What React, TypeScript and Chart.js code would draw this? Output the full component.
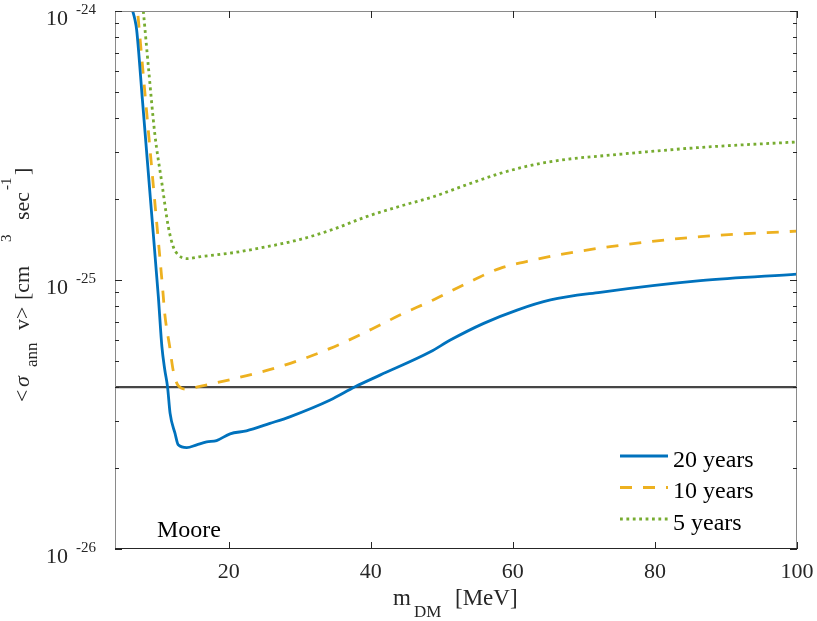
import React, { useEffect, useRef } from 'react';
import { Chart, registerables } from 'chart.js';

Chart.register(...registerables);

// ---- data ----
const mass20 = [6.49, 6.8, 7.05, 7.86, 9.0, 10.1, 10.6, 11.0, 11.4, 11.75, 12.45, 12.9, 14.1, 15.5, 16.9, 18.3, 20.2, 22.5, 25.8, 28.6, 34.3, 37.8, 41.3, 48.4, 51.2, 55.9, 60.6, 65.3, 72.3, 86.4, 100];
const sigma20 = [1.0e-24, 9.3e-25, 8.5e-25, 4.67e-25, 1.98e-25, 8.67e-26, 5.65e-26, 4.65e-26, 4.0e-26, 3.2e-26, 2.69e-26, 2.44e-26, 2.38e-26, 2.44e-26, 2.5e-26, 2.53e-26, 2.68e-26, 2.75e-26, 2.93e-26, 3.1e-26, 3.58e-26, 4.01e-26, 4.43e-26, 5.41e-26, 5.98e-26, 6.9e-26, 7.73e-26, 8.43e-26, 9.0e-26, 9.94e-26, 1.052e-25];

const mass10 = [7.24, 8.3, 9.58, 10.72, 11.0, 11.7, 12.2, 12.9, 14.1, 15.5, 17.4, 21.6, 27.2, 34.3, 41.3, 44.1, 48.8, 53.5, 58.2, 62.9, 67.6, 73.7, 86.4, 100];
const sigma10 = [9.6e-25, 4.67e-25, 1.98e-25, 9.2e-26, 7.5e-26, 5.65e-26, 4.6e-26, 4.05e-26, 3.93e-26, 4.0e-26, 4.1e-26, 4.35e-26, 4.76e-26, 5.57e-26, 6.8e-26, 7.41e-26, 8.43e-26, 9.72e-26, 1.105e-25, 1.187e-25, 1.256e-25, 1.33e-25, 1.45e-25, 1.52e-25];

const mass5 = [7.99, 8.7, 9.6, 10.6, 11.5, 12.2, 12.9, 14.1, 16.0, 20.7, 25.4, 30.1, 34.7, 39.4, 44.1, 48.8, 53.5, 58.2, 62.9, 67.6, 72.3, 86.4, 100];
const sigma5 = [1.0e-24, 6.2e-25, 3.5e-25, 2.29e-25, 1.58e-25, 1.33e-25, 1.24e-25, 1.2e-25, 1.221e-25, 1.264e-25, 1.33e-25, 1.416e-25, 1.543e-25, 1.72e-25, 1.88e-25, 2.04e-25, 2.26e-25, 2.49e-25, 2.68e-25, 2.81e-25, 2.89e-25, 3.11e-25, 3.26e-25];

const thresholdMass = [4, 100];
const thresholdSigma = [4e-26, 4e-26];

const xTickValues = [20, 40, 60, 80, 100];
const yTickValues = [1e-26, 1e-25, 1e-24];
const yTickExponents = ['-26', '-25', '-24'];
const seriesLabels = ['20 years', '10 years', '5 years'];
const panelLabel = 'Moore';

const FONT = "'Liberation Serif', 'Times New Roman', serif";
const AXIS_COLOR = '#262626';

const toPoints = (xs: number[], ys: number[]) => xs.map((x, i) => ({ x, y: ys[i] }));

const decorPlugin = {
  id: 'decor',
  afterDraw(chart: any) {
    const { ctx, chartArea: a, scales } = chart;
    const xs = scales.x;
    const ys = scales.y;
    ctx.save();

    // axes box
    ctx.lineWidth = 1;
    ctx.strokeStyle = '#8a8a8a';
    ctx.beginPath();
    ctx.moveTo(a.left + 0.5, a.bottom);
    ctx.lineTo(a.left + 0.5, a.top + 0.5);
    ctx.lineTo(a.right - 0.5, a.top + 0.5);
    ctx.lineTo(a.right - 0.5, a.bottom);
    ctx.stroke();
    ctx.strokeStyle = AXIS_COLOR;
    ctx.beginPath();
    ctx.moveTo(a.left, a.bottom - 0.5);
    ctx.lineTo(a.right, a.bottom - 0.5);
    ctx.stroke();

    // inward ticks on y (left and right)
    ctx.strokeStyle = AXIS_COLOR;
    for (let e = -26; e <= -24; e++) {
      for (let k = 1; k <= 9; k++) {
        const v = k * Math.pow(10, e);
        if (v > ys.max * 1.0001 || v < ys.min * 0.9999) continue;
        const py = Math.round(ys.getPixelForValue(v)) + 0.5;
        const len = k === 1 ? 7 : 4;
        ctx.beginPath();
        ctx.moveTo(a.left, py);
        ctx.lineTo(a.left + len, py);
        ctx.moveTo(a.right, py);
        ctx.lineTo(a.right - len, py);
        ctx.stroke();
      }
    }
    // inward ticks on x (bottom and top)
    xTickValues.forEach((v) => {
      const px = Math.round(xs.getPixelForValue(v)) + 0.5;
      ctx.beginPath();
      ctx.moveTo(px, a.bottom);
      ctx.lineTo(px, a.bottom - 7);
      ctx.moveTo(px, a.top);
      ctx.lineTo(px, a.top + 7);
      ctx.stroke();
    });

    // exponents of y tick labels
    ctx.fillStyle = AXIS_COLOR;
    ctx.font = `15px ${FONT}`;
    ctx.textAlign = 'left';
    ctx.textBaseline = 'alphabetic';
    yTickValues.forEach((v, i) => {
      const py = ys.getPixelForValue(v);
      ctx.fillText(yTickExponents[i], 76, py + 3);
    });

    // x axis title: m_DM [MeV]
    ctx.font = `23px ${FONT}`;
    ctx.fillText('m', 393, 605);
    ctx.font = `17px ${FONT}`;
    ctx.fillText('DM', 414, 617);
    ctx.font = `23px ${FONT}`;
    ctx.fillText('[MeV]', 455, 605);

    // y axis title (rotated)
    const segs: [string, string, number, number][] = [
      ['<', `22px ${FONT}`, 29, 402],
      ['σ', `italic 22px ${FONT}`, 29, 387],
      ['ann', `17px ${FONT}`, 37, 367],
      ['v>', `22px ${FONT}`, 29, 330],
      ['[cm', `22px ${FONT}`, 29, 300],
      ['3', `15px ${FONT}`, 11, 242],
      ['sec', `22px ${FONT}`, 29, 220],
      ['-1', `15px ${FONT}`, 11, 190],
      [']', `22px ${FONT}`, 29, 175],
    ];
    segs.forEach(([t, f, bx, sy]) => {
      ctx.save();
      ctx.translate(bx, sy);
      ctx.rotate(-Math.PI / 2);
      ctx.font = f;
      ctx.fillText(t, 0, 0);
      ctx.restore();
    });

    // panel label
    ctx.fillStyle = '#000';
    ctx.font = `24px ${FONT}`;
    ctx.fillText(panelLabel, 157, 537);

    // legend
    const ds = chart.data.datasets;
    for (let i = 0; i < 3; i++) {
      const rowY = 456 + i * 31.5;
      const d = ds[i];
      ctx.save();
      ctx.strokeStyle = d.borderColor;
      ctx.lineWidth = d.borderWidth;
      ctx.setLineDash(d.borderDash || []);
      ctx.beginPath();
      ctx.moveTo(620, rowY);
      ctx.lineTo(668, rowY);
      ctx.stroke();
      ctx.restore();
      ctx.fillStyle = '#000';
      ctx.font = `24px ${FONT}`;
      ctx.fillText(d.label, 673, rowY + 10.5);
    }
    ctx.restore();
  },
};

export default function App() {
  const canvasRef = useRef<HTMLCanvasElement | null>(null);

  useEffect(() => {
    document.body.style.margin = '0';
    const canvas = canvasRef.current;
    if (!canvas) return;
    const chart = new Chart(canvas, {
      type: 'line',
      data: {
        datasets: [
          {
            label: seriesLabels[0],
            data: toPoints(mass20, sigma20),
            borderColor: '#0072BD',
            borderWidth: 2.8,
            pointRadius: 0,
            cubicInterpolationMode: 'monotone',
            fill: false,
          },
          {
            label: seriesLabels[1],
            data: toPoints(mass10, sigma10),
            borderColor: '#EDB120',
            borderWidth: 2.8,
            borderDash: [12, 11],
            pointRadius: 0,
            cubicInterpolationMode: 'monotone',
            fill: false,
          },
          {
            label: seriesLabels[2],
            data: toPoints(mass5, sigma5),
            borderColor: '#77AC30',
            borderWidth: 2.8,
            borderDash: [2.8, 3.6],
            pointRadius: 0,
            cubicInterpolationMode: 'monotone',
            fill: false,
          },
          {
            label: 'threshold',
            data: toPoints(thresholdMass, thresholdSigma),
            borderColor: 'rgba(38,38,38,0.85)',
            borderWidth: 2.2,
            pointRadius: 0,
            fill: false,
          },
        ],
      },
      options: {
        animation: false,
        responsive: false,
        devicePixelRatio: 1,
        parsing: false as any,
        layout: { padding: { top: 11, right: 20, left: 0, bottom: 0 } },
        plugins: {
          legend: { display: false },
          tooltip: { enabled: false },
        },
        scales: {
          x: {
            type: 'linear',
            min: 4,
            max: 100,
            grid: { display: false, drawTicks: false },
            border: { display: false },
            afterBuildTicks: (scale: any) => {
              scale.ticks = xTickValues.map((v) => ({ value: v }));
            },
            afterFit: (scale: any) => {
              scale.height = 72;
              scale.paddingLeft = 0;
              scale.paddingRight = 0;
            },
            ticks: {
              autoSkip: false,
              maxRotation: 0,
              padding: 10,
              color: AXIS_COLOR,
              font: { family: FONT, size: 22 },
              callback: (v: any) => String(v),
            },
          },
          y: {
            type: 'logarithmic',
            min: 1e-26,
            max: 1e-24,
            grid: { display: false, drawTicks: false },
            border: { display: false },
            afterBuildTicks: (scale: any) => {
              scale.ticks = yTickValues.map((v) => ({ value: v }));
            },
            afterFit: (scale: any) => {
              scale.width = 115;
              scale.paddingTop = 0;
              scale.paddingBottom = 0;
            },
            ticks: {
              autoSkip: false,
              padding: 47,
              labelOffset: 8.5,
              color: AXIS_COLOR,
              font: { family: FONT, size: 22 },
              callback: () => '10',
            },
          },
        },
      },
      plugins: [decorPlugin],
    } as any);
    return () => chart.destroy();
  }, []);

  return (
    <div style={{ width: 817, height: 621 }}>
      <canvas ref={canvasRef} width={817} height={621} style={{ display: 'block', width: 817, height: 621 }} />
    </div>
  );
}
